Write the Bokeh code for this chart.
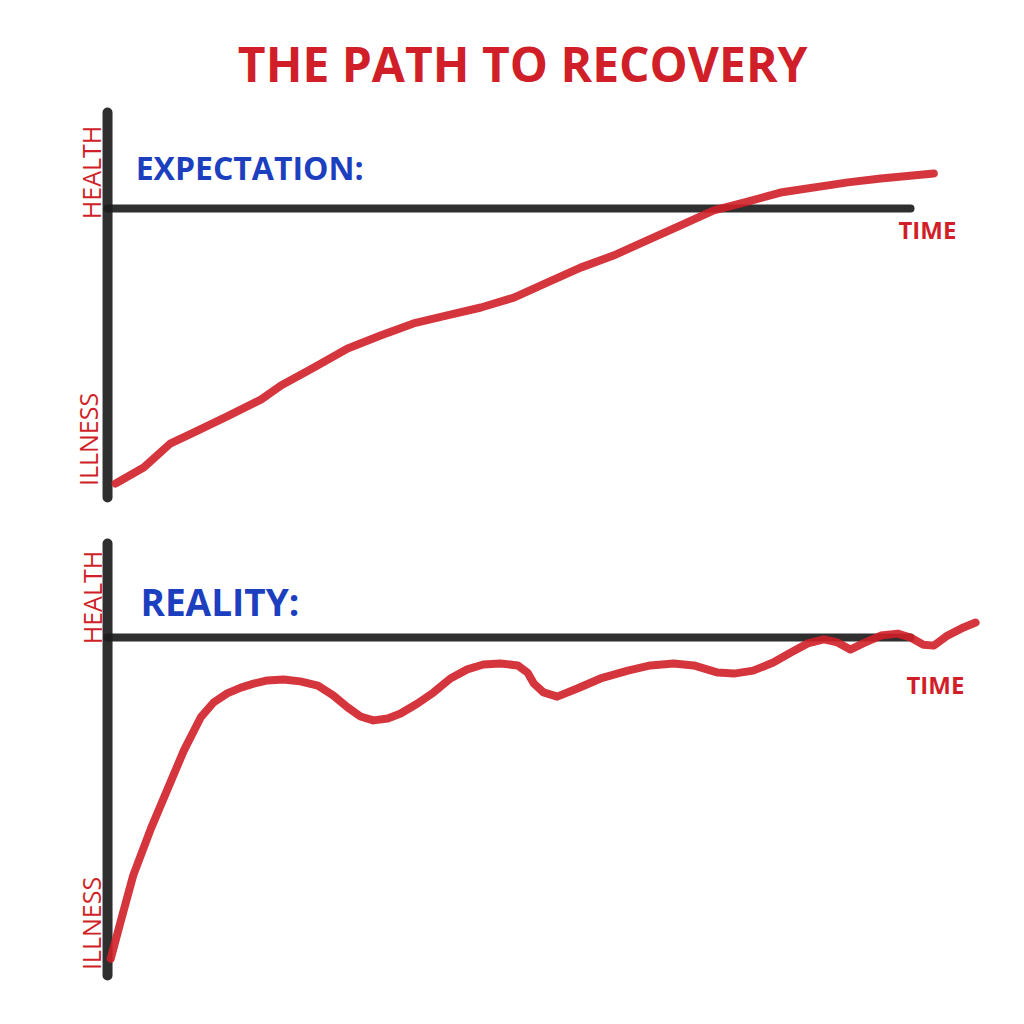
from bokeh.plotting import figure
from bokeh.models import Range1d, Label
from bokeh.layouts import column
from bokeh.embed import file_html
from bokeh.resources import INLINE
import math

# ---------------- data (time units, health units: 0 = illness, 10 = health) -------------
HEALTH_LEVEL = 10
TIME_END = 10

expect_time = [0.10, 0.45, 0.78, 1.07, 1.49, 1.91, 2.16, 2.57, 2.99, 3.40, 3.81, 4.23,
               4.65, 5.06, 5.48, 5.89, 6.30, 6.72, 7.13, 7.55, 7.97, 8.38, 9.22, 9.63, 10.29]
expect_health = [0.00, 0.58, 1.45, 1.85, 2.44, 3.05, 3.56, 4.22, 4.91, 5.38, 5.82, 6.11,
                 6.40, 6.76, 7.31, 7.85, 8.29, 8.84, 9.38, 9.93, 10.25, 10.58, 10.95, 11.09, 11.27]

reality_time = [0.04, 0.16, 0.32, 0.54, 0.75, 0.95, 1.16, 1.32, 1.49, 1.66,
                1.82, 1.99, 2.19, 2.40, 2.62, 2.81, 2.99, 3.15, 3.31, 3.49,
                3.65, 3.86, 4.06, 4.27, 4.48, 4.68, 4.89, 5.11, 5.23, 5.31,
                5.43, 5.60, 5.85, 6.14, 6.48, 6.76, 7.05, 7.30, 7.60, 7.80,
                8.04, 8.29, 8.51, 8.72, 8.92, 9.09, 9.25, 9.41, 9.63, 9.84,
                10.00, 10.16, 10.29, 10.46, 10.66, 10.81]
reality_health = [0.12, 1.23, 2.68, 4.12, 5.35, 6.52, 7.54, 8.00, 8.28, 8.46,
                  8.58, 8.68, 8.71, 8.65, 8.52, 8.22, 7.85, 7.57, 7.45, 7.51,
                  7.66, 7.97, 8.31, 8.74, 9.02, 9.17, 9.20, 9.14, 8.92, 8.58,
                  8.31, 8.18, 8.43, 8.74, 8.98, 9.14, 9.20, 9.14, 8.92, 8.89,
                  8.98, 9.23, 9.54, 9.82, 9.94, 9.85, 9.63, 9.82, 10.06, 10.12,
                  10.00, 9.78, 9.75, 10.06, 10.31, 10.46]

TITLE = "THE PATH TO RECOVERY"
PANEL_TITLES = ["EXPECTATION:", "REALITY:"]
Y_LABELS = ["HEALTH", "ILLNESS"]
X_LABEL = "TIME"

# ---------------- styles -------------
RED = "#d01f28"
BLUE = "#1c3fbf"
BLACK = "#1d1d1d"
FONT = "Open Sans"
W = 1008


def make_panel(height, y_lo, y_hi, axis_lo, axis_hi, t, h, panel_title, title_pos,
               title_size, time_pos, health_pos, illness_pos):
    p = figure(width=W, height=height, output_backend="svg", toolbar_location=None,
               x_range=Range1d(-1.333, 11.220), y_range=Range1d(y_lo, y_hi),
               min_border=0, min_border_left=0, min_border_right=0,
               min_border_top=0, min_border_bottom=0)
    p.title.visible = False
    p.axis.visible = False
    p.grid.visible = False
    p.outline_line_color = None
    p.background_fill_color = "white"
    p.border_fill_color = "white"

    # axes drawn as thick marker strokes
    p.segment(x0=[0], y0=[axis_lo], x1=[0], y1=[axis_hi], line_color=BLACK,
              line_width=10, line_alpha=0.92, line_cap="round")
    p.segment(x0=[0], y0=[HEALTH_LEVEL], x1=[TIME_END], y1=[HEALTH_LEVEL],
              line_color=BLACK, line_width=8, line_alpha=0.92, line_cap="round")

    # curve
    p.line(t, h, line_color=RED, line_width=8, line_alpha=0.9,
           line_cap="round", line_join="round")

    p.add_layout(Label(x=title_pos[0], y=title_pos[1], text=panel_title,
                       text_color=BLUE, text_font=FONT, text_font_style="bold",
                       text_font_size=title_size, text_align="left",
                       text_baseline="middle"))
    p.add_layout(Label(x=time_pos[0], y=time_pos[1], text=X_LABEL,
                       text_color=RED, text_font=FONT, text_font_size="24px",
                       text_font_style="bold", text_align="center",
                       text_baseline="middle"))
    p.add_layout(Label(x=health_pos[0], y=health_pos[1], text=Y_LABELS[0],
                       text_color=RED, text_font=FONT, text_font_size="25px",
                       text_align="center", text_baseline="middle",
                       angle=math.pi / 2))
    p.add_layout(Label(x=illness_pos[0], y=illness_pos[1], text=Y_LABELS[1],
                       text_color=RED, text_font=FONT, text_font_size="25px",
                       text_align="center", text_baseline="middle",
                       angle=math.pi / 2))
    return p


top = make_panel(515, -1.164, 17.564, -0.51, 13.49, expect_time, expect_health,
                 PANEL_TITLES[0], (0.35, 11.49), "32px", (10.21, 9.24),
                 (-0.21, 11.31), (-0.24, 1.6))
top.add_layout(Label(x=5.17, y=15.27, text=TITLE, text_color=RED, text_font=FONT,
                     text_font_style="bold", text_font_size="48px",
                     text_align="center", text_baseline="middle"))

bottom = make_panel(493, -1.415, 13.754, -0.40, 12.89, reality_time, reality_health,
                    PANEL_TITLES[1], (0.41, 11.11), "37px", (10.31, 8.55),
                    (-0.19, 11.23), (-0.21, 1.2))

layout = column(top, bottom, spacing=0)
open("out.html", "w").write(file_html(layout, INLINE))
